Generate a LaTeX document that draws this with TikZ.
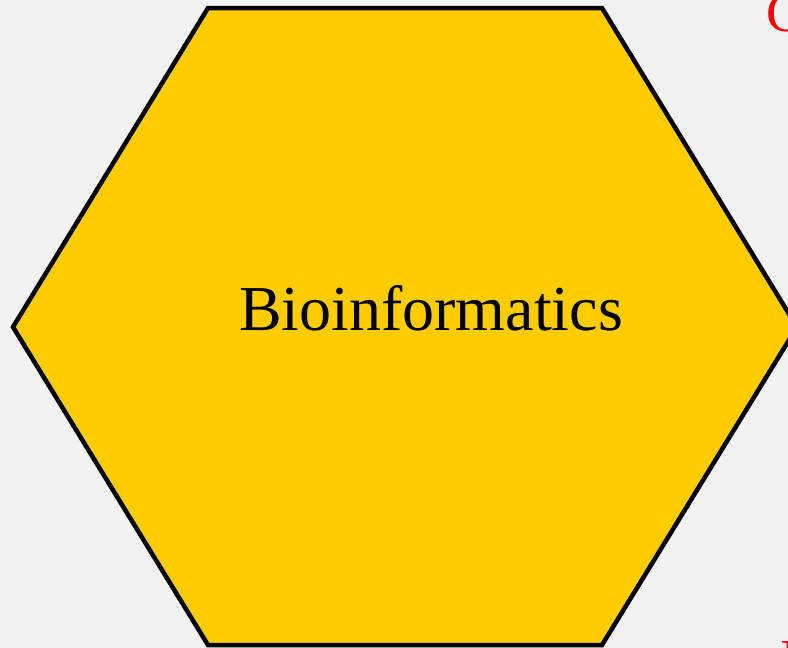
\documentclass[tikz,border=0pt]{standalone}
\usepackage{fontspec}
\setmainfont{Liberation Serif}
\definecolor{bg}{HTML}{F2F2F2}
\definecolor{hexfill}{HTML}{FFCC00}
\begin{document}
\begin{tikzpicture}[x=1pt,y=-1pt,
  hexstyle/.style={draw=black,line width=4.5pt,fill=hexfill,line join=miter},
  redlabel/.style={text=red,font=\fontsize{55}{60}\selectfont,inner sep=0pt,anchor=base west}]
\fill[bg] (0,0) rectangle (788,648);
\useasboundingbox (0,0) rectangle (788,648);
\draw[hexstyle] (208,8) -- (602,8) -- (797,327) -- (602,645) -- (208,645) -- (13,327) -- cycle;
\node[font=\fontsize{64}{70}\selectfont,inner sep=0pt,anchor=base] (t) at (431,330) {Bioinformatics};
\node[redlabel] (c) at (766,31) {C};
\node[redlabel] (i) at (780,677) {I};
\end{tikzpicture}
\end{document}
